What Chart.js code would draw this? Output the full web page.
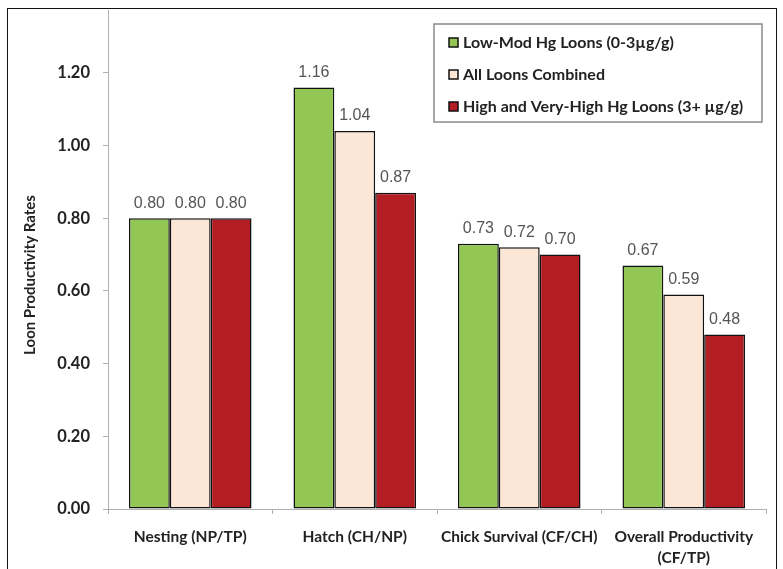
<!DOCTYPE html>
<html>
<head>
<meta charset="utf-8">
<script src="https://cdn.jsdelivr.net/npm/chart.js@4.4.1/dist/chart.umd.min.js"></script>
<style>
    html, body { margin: 0; padding: 0; background: #fff; }
    #wrap { position: relative; width: 783px; height: 569px; overflow: hidden; }
    #frame { position: absolute; left: 7px; top: 8px; width: 770px; height: 590px; border: 1.5px solid #111; box-sizing: border-box; pointer-events: none; }
</style>
</head>
<body>
<div id="wrap">
    <canvas id="loonChart" width="783" height="569"></canvas>
    <div id="frame"></div>
</div>
<script>
// Chart data
const categories = ['Nesting (NP/TP)', 'Hatch (CH/NP)', 'Chick Survival (CF/CH)', ['Overall Productivity', '(CF/TP)']];
const seriesNames = ['Low-Mod Hg Loons (0-3\u00b5g/g)', 'All Loons Combined', 'High and Very-High Hg Loons (3+ \u00b5g/g)'];
const lowModHg = [0.80, 1.16, 0.73, 0.67];
const allLoons = [0.80, 1.04, 0.72, 0.59];
const highHg = [0.80, 0.87, 0.70, 0.48];
const yTicks = [0, 0.2, 0.4, 0.6, 0.8, 1.0, 1.2];
const yTitle = 'Loon Productivity Rates';

const colors = ['#92c755', '#fce6d6', '#b31d24'];
const font = "Lato, 'DejaVu Sans', sans-serif";

// Value labels above each bar
const valueLabels = {
    id: 'valueLabels',
    afterDatasetsDraw(chart) {
        const ctx = chart.ctx;
        ctx.save();
        ctx.font = "16px 'Liberation Sans', Arial, sans-serif";
        ctx.fillStyle = '#555';
        ctx.textAlign = 'center';
        ctx.textBaseline = 'bottom';
        chart.data.datasets.forEach((ds, i) => {
            chart.getDatasetMeta(i).data.forEach((bar, j) => {
                ctx.fillText(ds.data[j].toFixed(2), bar.x, bar.y - 7);
            });
        });
        ctx.restore();
    }
};

// Y axis title, placed a little below the axis middle like the original
const axisTitle = {
    id: 'axisTitle',
    afterDraw(chart) {
        const ctx = chart.ctx;
        ctx.save();
        ctx.translate(30, 275);
        ctx.rotate(-Math.PI / 2);
        ctx.font = "bold 15px " + font;
        ctx.fillStyle = '#222';
        ctx.textAlign = 'center';
        ctx.textBaseline = 'middle';
        ctx.fillText(yTitle, 0, 0);
        ctx.restore();
    }
};

// Boxed legend inside the plot area, top right
const boxLegend = {
    id: 'boxLegend',
    afterDraw(chart) {
        const ctx = chart.ctx;
        const left = 434, right = 762, top = 24, bottom = 122;
        ctx.save();
        ctx.fillStyle = '#fff';
        ctx.fillRect(left, top, right - left, bottom - top);
        ctx.strokeStyle = '#8a8a8a';
        ctx.lineWidth = 1.5;
        ctx.strokeRect(left, top, right - left, bottom - top);
        ctx.font = "bold 16px " + font;
        ctx.textBaseline = 'middle';
        chart.data.datasets.forEach((ds, i) => {
            const y = 42 + i * 32;
            ctx.fillStyle = ds.backgroundColor;
            ctx.fillRect(449, y - 4, 9, 9);
            ctx.strokeStyle = '#111';
            ctx.lineWidth = 1.5;
            ctx.strokeRect(449, y - 4, 9, 9);
            ctx.fillStyle = '#222';
            ctx.fillText(ds.label, 463, y + 1);
        });
        ctx.restore();
    }
};

const ctx = document.getElementById('loonChart');
new Chart(ctx, {
    type: 'bar',
    data: {
        labels: categories,
        datasets: [
            { label: seriesNames[0], data: lowModHg, backgroundColor: colors[0] },
            { label: seriesNames[1], data: allLoons, backgroundColor: colors[1] },
            { label: seriesNames[2], data: highHg, backgroundColor: colors[2] }
        ]
    },
    options: {
        responsive: false,
        animation: false,
        devicePixelRatio: 1,
        layout: { padding: { top: 10, right: 17, left: 0, bottom: 0 } },
        datasets: {
            bar: {
                categoryPercentage: 0.745,
                barPercentage: 1.0,
                borderColor: '#111',
                borderWidth: 1.5,
                borderSkipped: false
            }
        },
        plugins: {
            legend: { display: false },
            tooltip: { enabled: false }
        },
        scales: {
            x: {
                offset: true,
                grid: { display: true, offset: true, drawOnChartArea: false, tickLength: 5, color: '#b0b0b0' },
                border: { color: '#b0b0b0' },
                ticks: {
                    color: '#222',
                    padding: 13,
                    maxRotation: 0,
                    font: { family: font, size: 15.5, weight: 'bold', lineHeight: 1.35 }
                },
                afterFit(scale) { scale.height = 60; }
            },
            y: {
                min: 0,
                max: 1.373,
                afterBuildTicks(scale) {
                    scale.ticks = yTicks.map(v => ({ value: v }));
                },
                grid: { drawOnChartArea: false, tickLength: 5, color: '#b0b0b0' },
                border: { color: '#b0b0b0' },
                ticks: {
                    color: '#222',
                    padding: 13,
                    font: { family: font, size: 16.5, weight: 'bold' },
                    callback: v => v.toFixed(2)
                },
                afterFit(scale) {
                    scale.width = 108;
                    scale.paddingTop = 0;
                    scale.paddingBottom = 0;
                }
            }
        }
    },
    plugins: [valueLabels, axisTitle, boxLegend]
});
</script>
</body>
</html>
